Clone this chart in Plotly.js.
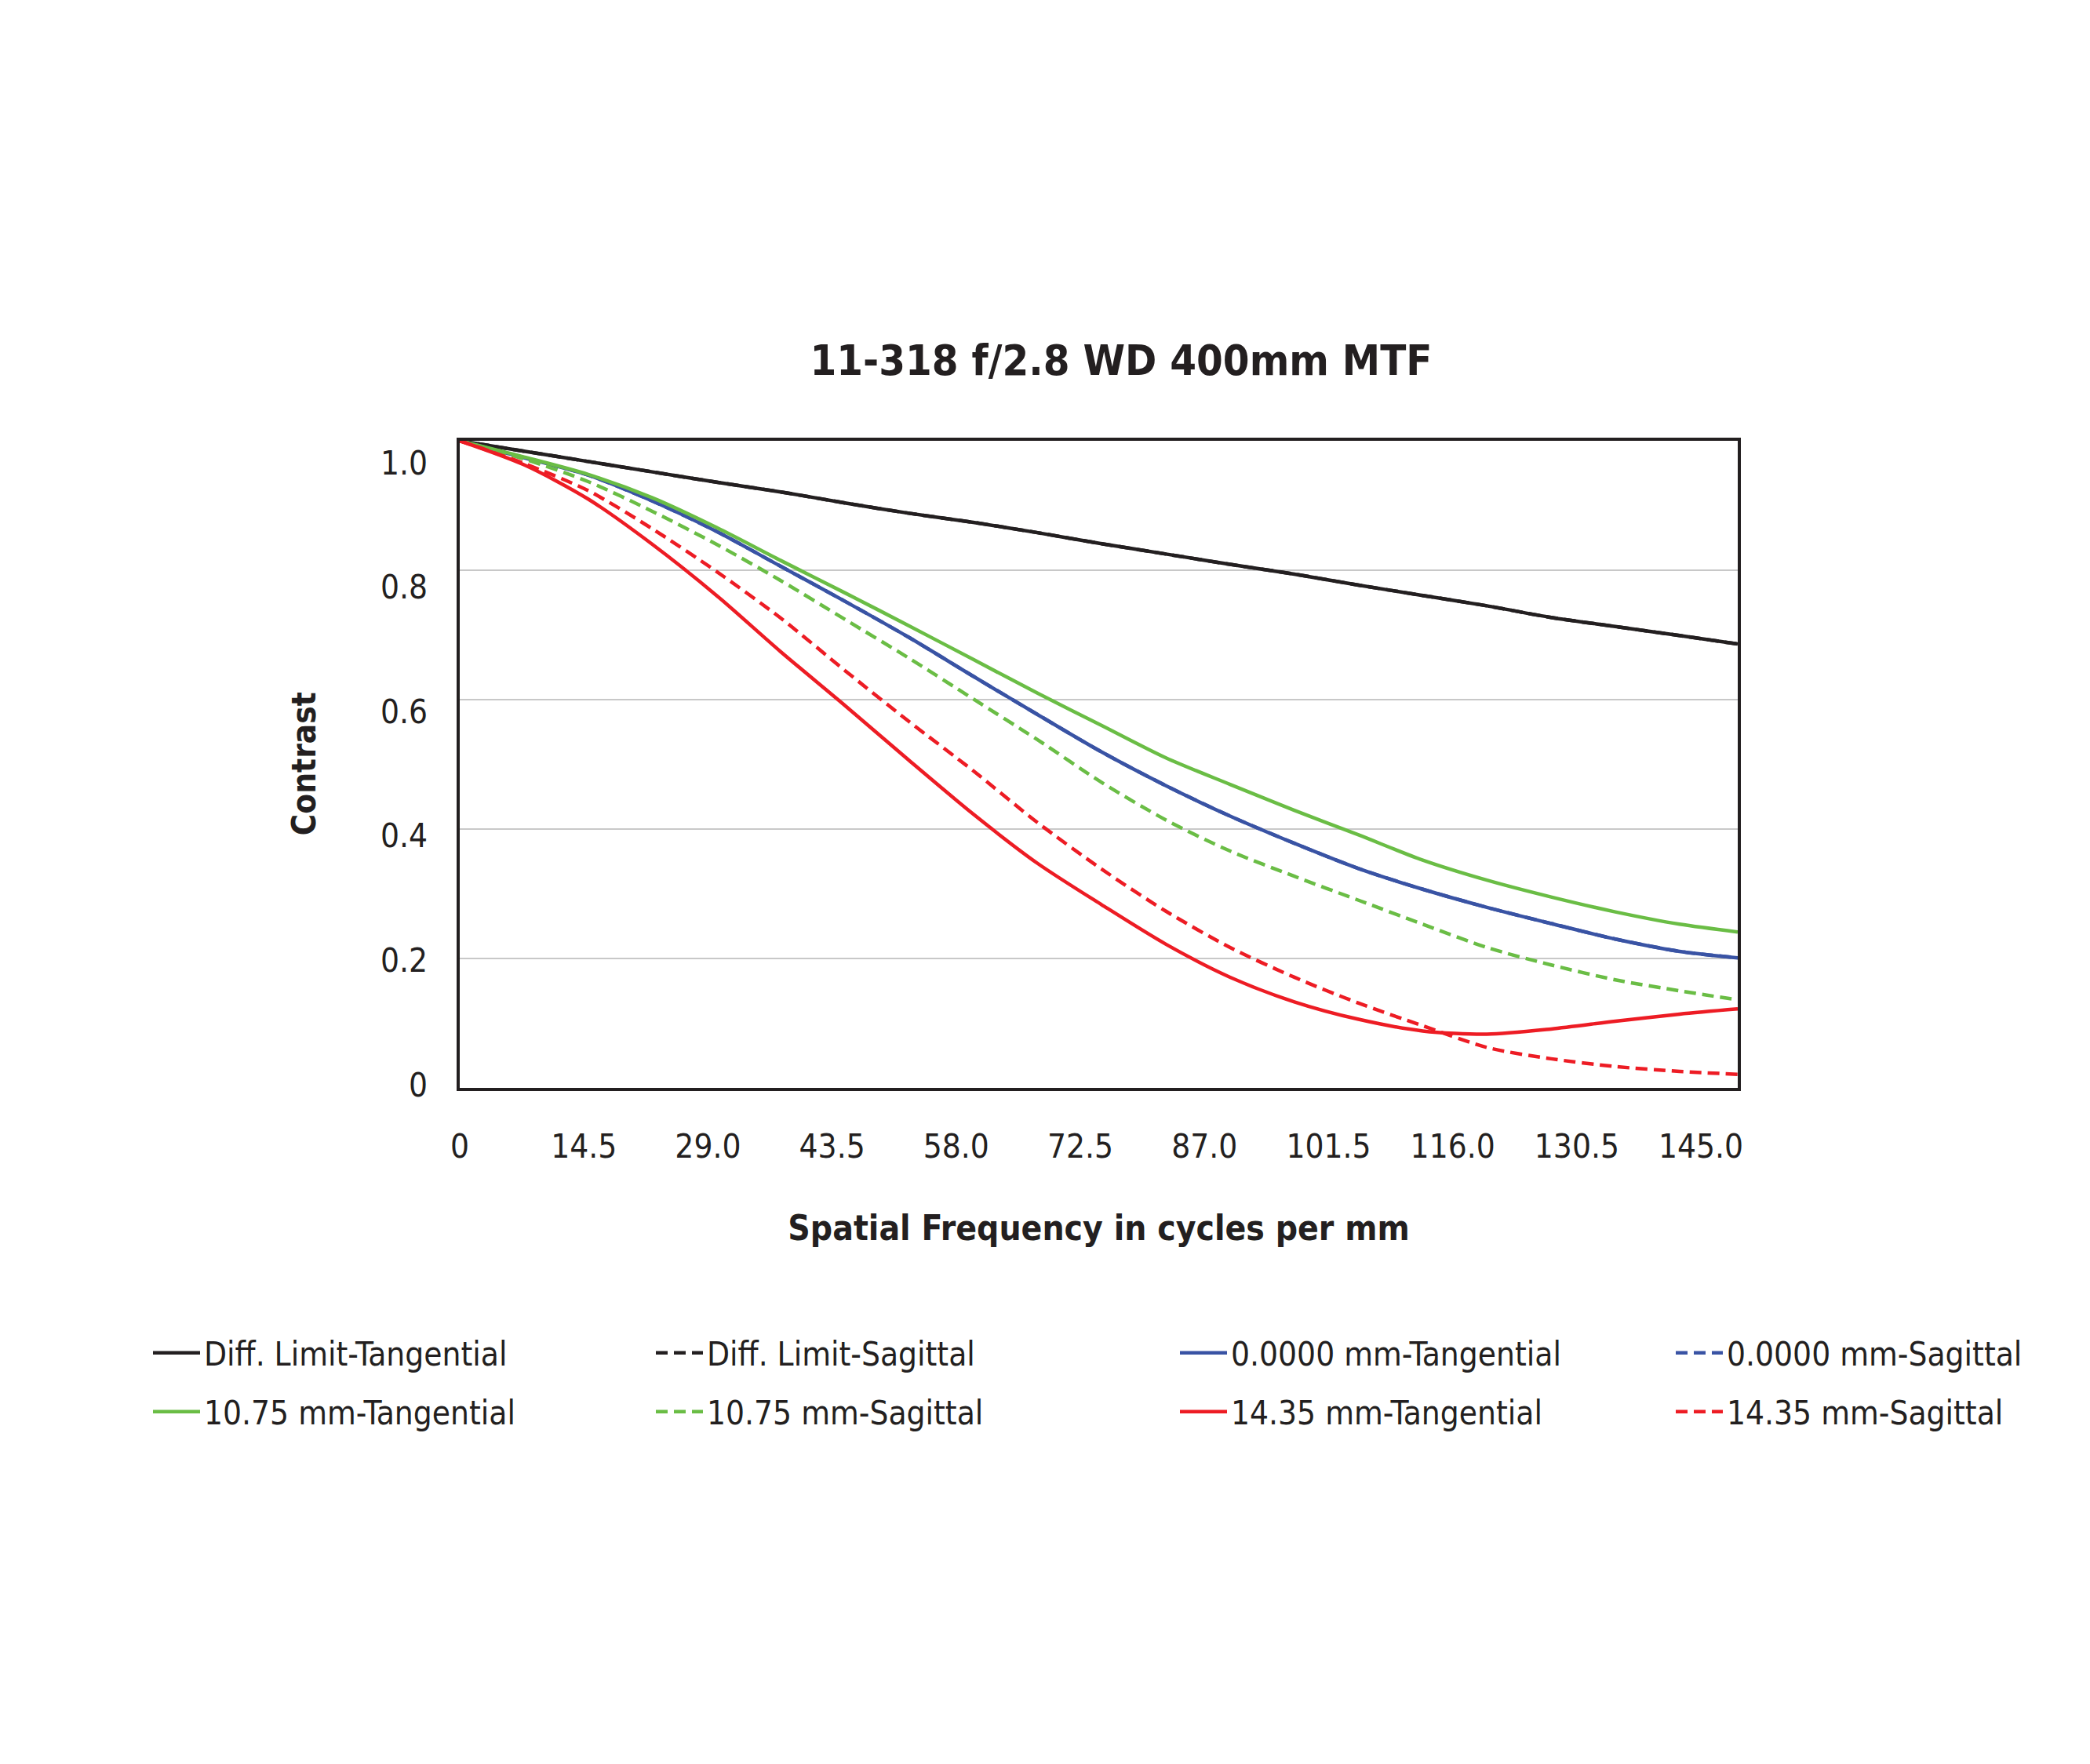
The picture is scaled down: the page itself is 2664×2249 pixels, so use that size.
<!DOCTYPE html>
<html>
<head>
<meta charset="utf-8">
<script src="https://cdn.plot.ly/plotly-3.0.1.min.js"></script>
<style>html,body{margin:0;padding:0;background:#fff;}#chart{width:2664px;height:2249px;}</style>
</head>
<body>
<div id="chart"></div>
<script>
// Spatial frequency samples (cycles per mm)
const freq = [0, 7.5, 15, 22.5, 30, 37.5, 45, 52.5, 60, 67.5, 75, 82.5, 90, 97.5, 105, 112.5, 120, 127.5, 135, 142.5, 149.3];

// Contrast values
const diffTan  = [1.000, 0.984, 0.968, 0.952, 0.936, 0.921, 0.904, 0.888, 0.874, 0.858, 0.841, 0.825, 0.809, 0.794, 0.777, 0.761, 0.745, 0.727, 0.713, 0.699, 0.686];
const diffSag  = [1.000, 0.984, 0.968, 0.952, 0.936, 0.921, 0.904, 0.888, 0.874, 0.858, 0.841, 0.825, 0.809, 0.794, 0.777, 0.761, 0.745, 0.727, 0.713, 0.699, 0.686];
const axisTan  = [1.000, 0.974, 0.947, 0.907, 0.860, 0.806, 0.752, 0.696, 0.636, 0.577, 0.519, 0.467, 0.420, 0.378, 0.339, 0.307, 0.279, 0.254, 0.230, 0.211, 0.201];
const axisSag  = [1.000, 0.974, 0.947, 0.907, 0.860, 0.806, 0.752, 0.696, 0.636, 0.577, 0.519, 0.467, 0.420, 0.378, 0.339, 0.307, 0.279, 0.254, 0.230, 0.211, 0.201];
const f1075Tan = [1.000, 0.975, 0.948, 0.912, 0.866, 0.815, 0.765, 0.714, 0.662, 0.610, 0.560, 0.510, 0.469, 0.429, 0.391, 0.352, 0.321, 0.295, 0.272, 0.253, 0.241];
const f1075Sag = [1.000, 0.972, 0.937, 0.891, 0.840, 0.784, 0.724, 0.664, 0.601, 0.538, 0.472, 0.414, 0.366, 0.327, 0.290, 0.253, 0.217, 0.190, 0.167, 0.150, 0.136];
const f1435Tan = [1.000, 0.963, 0.910, 0.840, 0.761, 0.674, 0.591, 0.506, 0.423, 0.347, 0.283, 0.222, 0.171, 0.133, 0.106, 0.088, 0.083, 0.091, 0.103, 0.114, 0.122];
const f1435Sag = [1.000, 0.965, 0.923, 0.864, 0.798, 0.726, 0.645, 0.566, 0.490, 0.410, 0.338, 0.273, 0.217, 0.171, 0.131, 0.096, 0.0625, 0.045, 0.033, 0.0255, 0.021];

// Tick labels
const xTickVals = [0, 14.5, 29, 43.5, 58, 72.5, 87, 101.5, 116, 130.5, 145];
const xTickText = ['0', '14.5', '29.0', '43.5', '58.0', '72.5', '87.0', '101.5', '116.0', '130.5', '145.0'];
const yTickVals = [0, 0.2, 0.4, 0.6, 0.8, 1.0];
const yTickText = ['0', '0.2', '0.4', '0.6', '0.8', '1.0'];
const yTitle = 'Contrast';

const FONT = "'Liberation Sans Narrow', 'DejaVu Sans Condensed', 'Roboto Condensed', 'Liberation Sans', sans-serif";
const INK = '#231f20';
const BLACK = '#231f20', BLUE = '#3953a4', GREEN = '#6abd45', RED = '#ed1c24';
const DASH = '15px,8px';
const LW = 4.5;

function tr(y, name, color, dash, legend) {
  return {x: freq, y: y, name: name, type: 'scatter', mode: 'lines',
    line: {color: color, width: LW, dash: dash, shape: 'spline', smoothing: 0.8},
    legend: legend, hoverinfo: 'skip'};
}

const data = [
  tr(diffSag,  'Diff. Limit-Sagittal',     BLACK, DASH,    'legend2'),
  tr(diffTan,  'Diff. Limit-Tangential',   BLACK, 'solid', 'legend'),
  tr(axisSag,  '0.0000 mm-Sagittal',       BLUE,  DASH,    'legend4'),
  tr(axisTan,  '0.0000 mm-Tangential',     BLUE,  'solid', 'legend3'),
  tr(f1075Tan, '10.75 mm-Tangential',      GREEN, 'solid', 'legend5'),
  tr(f1075Sag, '10.75 mm-Sagittal',        GREEN, DASH,    'legend6'),
  tr(f1435Tan, '14.35 mm-Tangential',      RED,   'solid', 'legend7'),
  tr(f1435Sag, '14.35 mm-Sagittal',        RED,   DASH,    'legend8'),
  // empty trace that only instantiates the label axis (y2)
  {x: [], y: [], type: 'scatter', mode: 'lines', yaxis: 'y2', showlegend: false, hoverinfo: 'skip'}
];

const W = 2664, H = 2249;
const colX = [190, 831, 1499, 2131];
const rowY = [1725, 1800];
function leg(col, row) {
  return {xref: 'container', yref: 'container', x: colX[col] / W, y: 1 - rowY[row] / H,
    xanchor: 'left', yanchor: 'middle', bgcolor: 'rgba(0,0,0,0)', borderwidth: 0,
    font: {family: FONT, size: 42, color: INK}, itemwidth: 60};
}

const layout = {
  width: W, height: H,
  paper_bgcolor: '#ffffff', plot_bgcolor: '#ffffff',
  margin: {l: 586, r: 449, t: 562, b: 862, autoexpand: false},
  showlegend: true,
  title: {text: '11-318 f/2.8 WD 400mm MTF', x: 1429 / W, xanchor: 'center', xref: 'container',
    y: 1 - 459 / H, yanchor: 'middle', yref: 'container',
    font: {family: FONT, size: 54, color: INK, weight: 700}},
  xaxis: {range: [0, 149.3], tickmode: 'array', tickvals: xTickVals, ticktext: xTickText,
    showgrid: false, zeroline: false, showline: true, mirror: true, linecolor: INK, linewidth: 4,
    ticks: '', ticklabelstandoff: 35, tickfont: {family: FONT, size: 42, color: INK},
    title: {text: 'Spatial Frequency in cycles per mm', standoff: 66,
      font: {family: FONT, size: 44, color: INK, weight: 700}},
    fixedrange: true, automargin: false},
  yaxis: {range: [0, 1], tickmode: 'array', tickvals: yTickVals, showticklabels: false,
    showgrid: true, gridcolor: '#c8c8c8', gridwidth: 2, zeroline: false,
    showline: true, mirror: true, linecolor: INK, linewidth: 4, ticks: '',
    fixedrange: true, automargin: false},
  yaxis2: {overlaying: 'y', anchor: 'x', side: 'left', range: [-0.00505, 1.0353],
    tickmode: 'array', tickvals: yTickVals, ticktext: yTickText,
    showgrid: false, zeroline: false, showline: false, ticks: '', ticklabelstandoff: 40,
    tickfont: {family: FONT, size: 42, color: INK},
    fixedrange: true, automargin: false},
  annotations: [{text: yTitle, textangle: -90, xref: 'paper', yref: 'paper',
    x: (387 - 586) / 1629, y: 0.5, xanchor: 'center', yanchor: 'middle', showarrow: false,
    font: {family: FONT, size: 42, color: INK, weight: 700}}],
  legend: leg(0, 0), legend2: leg(1, 0), legend3: leg(2, 0), legend4: leg(3, 0),
  legend5: leg(0, 1), legend6: leg(1, 1), legend7: leg(2, 1), legend8: leg(3, 1)
};

Plotly.newPlot('chart', data, layout, {displayModeBar: false, staticPlot: true});
</script>
</body>
</html>
